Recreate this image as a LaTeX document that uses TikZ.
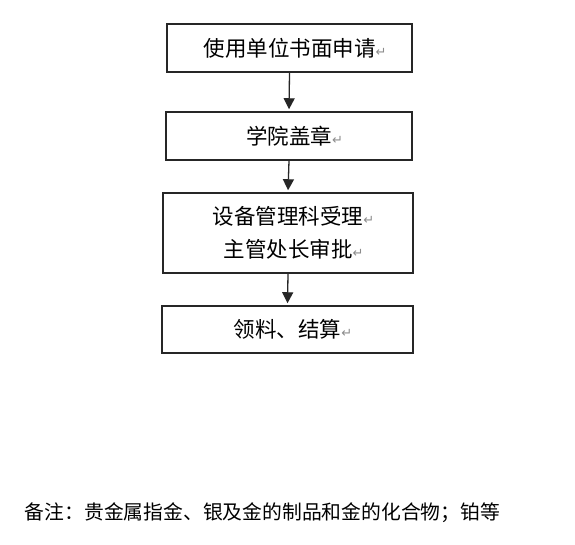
\documentclass[tikz,border=0pt]{standalone}
\usepackage{fontspec}
\newfontfamily\cjk{Noto Sans CJK SC}
\newfontfamily\symf{DejaVu Sans}
\usetikzlibrary{arrows.meta}
\newcommand{\pmark}{\rlap{\textcolor{black!45}{\symf\fontsize{13pt}{13pt}\selectfont ↵}}}
\tikzset{
  flowbox/.style={draw=black!85, line width=1.5pt, rectangle, inner sep=0pt, align=center,
    font=\cjk\fontsize{21.5pt}{33pt}\selectfont, text=black},
  flowarr/.style={draw=black!85, line width=1.3pt, -{Triangle[width=11pt,length=11pt]}, shorten >=2pt},
  notetext/.style={font=\cjk\fontsize{19.8pt}{24pt}\selectfont, text=black, inner sep=0pt}
}
\begin{document}
\begin{tikzpicture}[x=1pt,y=-1pt]
  \fill[white] (0,0) rectangle (575,545);
  \useasboundingbox (0,0) rectangle (575,545);
  \node[flowbox, minimum width=245pt, minimum height=48pt] (b1) at (289.5,48) {使用单位书面申请\pmark};
  \node[flowbox, minimum width=246pt, minimum height=48pt] (b2) at (289,136) {学院盖章\pmark};
  \node[flowbox, minimum width=250pt, minimum height=80pt] (b3) at (288,233) {设备管理科受理\pmark\\主管处长审批\pmark};
  \node[flowbox, minimum width=251pt, minimum height=47pt] (b4) at (287.5,329.5) {领料、结算\pmark};
  \draw[flowarr] (b1.south) -- (b2.north);
  \draw[flowarr] (b2.south) -- (b3.north);
  \draw[flowarr] (b3.south) -- (b4.north);
  \node[notetext] (note) at (262.5,513) {备注：贵金属指金、银及金的制品和金的化合物；铂等};
\end{tikzpicture}
\end{document}
